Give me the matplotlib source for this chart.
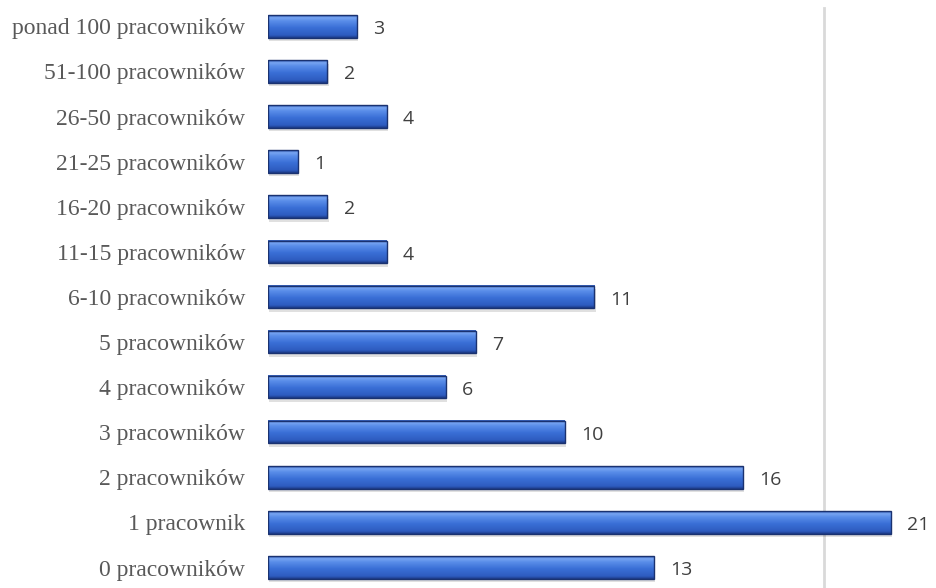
import numpy as np
import matplotlib.pyplot as plt
from matplotlib.colors import LinearSegmentedColormap
from matplotlib.patches import Rectangle

categories = ['0 pracowników', '1 pracownik', '2 pracowników', '3 pracowników',
              '4 pracowników', '5 pracowników', '6-10 pracowników', '11-15 pracowników',
              '16-20 pracowników', '21-25 pracowników', '26-50 pracowników',
              '51-100 pracowników', 'ponad 100 pracowników']
counts = [13, 21, 16, 10, 6, 7, 11, 4, 2, 1, 4, 2, 3]

fig = plt.figure(figsize=(9.36, 5.88), dpi=100)
ax = fig.add_axes([0.2863, -0.0035, 0.713, 0.9971])

bar_h = 0.5
# vertical gradient: dark bottom edge, bright upper band, dark top edge
bevel = LinearSegmentedColormap.from_list('bevel', [
    (0.0, '#1c3a86'), (0.12, '#2e5cc0'), (0.45, '#3a6fd6'),
    (0.75, '#5a8ee9'), (0.9, '#78a6f2'), (1.0, '#2d55b0')])
grad = np.linspace(0, 1, 64).reshape(-1, 1)

for i, v in enumerate(counts):
    # soft shadow under the bar
    ax.add_patch(Rectangle((0.05, i - bar_h / 2 - 0.08), v, bar_h, color='#000000',
                           alpha=0.12, lw=0, zorder=1))
    ax.imshow(grad, cmap=bevel, aspect='auto', origin='lower', zorder=2,
              extent=(0, v, i - bar_h / 2, i + bar_h / 2), interpolation='bilinear')
    ax.add_patch(Rectangle((0, i - bar_h / 2), v, bar_h, fill=False,
                           edgecolor='#1a3270', lw=1.0, zorder=3))
    ax.text(v + 0.55, i - 0.06, str(v), va='center', ha='left', fontsize=14,
            color='#404040', family='Open Sans')

# light vertical gridline seen in the original
ax.axvline(18.75, ymax=0.992, color='#d9d9d9', lw=2, zorder=0)

ax.set_xlim(0, 22.5)
ax.set_ylim(-0.5, 12.5)
ax.set_yticks(range(len(categories)))
ax.set_yticklabels(categories, family='Liberation Serif', fontsize=17, color='#595959')
ax.tick_params(axis='y', length=0, pad=16.5)
ax.set_xticks([])
for s in ax.spines.values():
    s.set_visible(False)

fig.savefig('out.png', dpi=100)
